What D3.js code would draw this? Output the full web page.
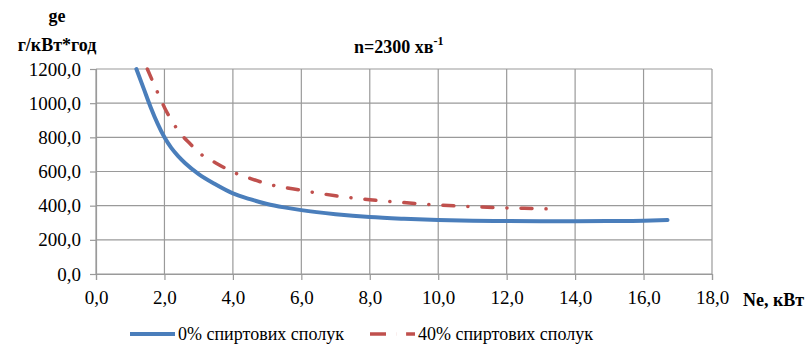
<!DOCTYPE html>
<html>
<head>
<meta charset="utf-8">
<script src="https://cdn.jsdelivr.net/npm/d3@7"></script>
<style>
  body { margin: 0; background: #fff; }
  svg text { font-family: "Liberation Serif", "Times New Roman", Times, "DejaVu Serif", serif; fill: #000; }
</style>
</head>
<body>
<div id="chart"></div>
<script>
// data
var ne0 = [1.18, 1.4, 1.6, 1.8, 2.0, 2.2, 2.4, 2.6, 3.0, 3.5, 4.0, 4.5, 5.0, 5.5, 6.0, 7.0, 8.0, 9.0, 10.0, 11.0, 12.0, 13.0, 14.0, 15.0, 16.0, 16.7];
var ge0 = [1200, 1082, 975, 880, 800, 738, 690, 650, 585, 524, 472, 438, 410, 390, 374, 350, 333, 323, 316, 312, 310, 309, 309, 310, 312, 316];

var ne40 = [1.5, 1.75, 2.0, 2.25, 2.5, 2.75, 3.0, 3.5, 4.0, 4.5, 5.0, 6.0, 7.0, 8.0, 9.0, 10.0, 11.0, 12.0, 13.0, 13.4];
var ge40 = [1200, 1085, 975, 885, 815, 762, 712, 650, 597, 560, 528, 490, 458, 435, 418, 404, 394, 387, 382, 380];

var seriesNames = ["0% спиртових сполук", "40% спиртових сполук"];
var xTicks = [0, 2, 4, 6, 8, 10, 12, 14, 16, 18];
var yTicks = [0, 200, 400, 600, 800, 1000, 1200];

var margin = {top: 69, right: 99, bottom: 71, left: 96},
    width = 811 - margin.left - margin.right,
    height = 345 - margin.top - margin.bottom;

var root = d3.select("#chart")
  .append("svg")
    .attr("width", 811)
    .attr("height", 345);

var svg = root.append("g")
    .attr("transform", "translate(" + margin.left + "," + margin.top + ")");

var x = d3.scaleLinear().domain([0, 18]).range([0, width]);
var y = d3.scaleLinear().domain([0, 1200]).range([height, 0]);
var fmt = function(d) { return d3.format(".1f")(d).replace(".", ","); };

var gridColor = "#9a9a9a";

// grid
svg.append("g")
  .selectAll("line")
  .data(yTicks)
  .enter()
  .append("line")
    .attr("x1", 0).attr("x2", width)
    .attr("y1", d => y(d)).attr("y2", d => y(d))
    .attr("stroke", gridColor).attr("stroke-width", 1.2);

svg.append("g")
  .selectAll("line")
  .data(xTicks)
  .enter()
  .append("line")
    .attr("x1", d => x(d)).attr("x2", d => x(d))
    .attr("y1", 0).attr("y2", height)
    .attr("stroke", gridColor).attr("stroke-width", 1.2);

// axes
var xAxis = svg.append("g")
  .attr("transform", "translate(0," + height + ")")
  .call(d3.axisBottom(x).tickValues(xTicks).tickFormat(fmt).tickSize(6).tickPadding(11));

var yAxis = svg.append("g")
  .call(d3.axisLeft(y).tickValues(yTicks).tickFormat(fmt).tickSize(6).tickPadding(9));

[xAxis, yAxis].forEach(function(a) {
  a.attr("font-size", 19);
  a.select(".domain").attr("stroke", gridColor).attr("stroke-width", 1.2);
  a.selectAll(".tick line").attr("stroke", gridColor).attr("stroke-width", 1.2);
  a.selectAll(".tick text").attr("fill", "#000");
});

// lines
var line = d3.line()
  .x(d => x(d[0]))
  .y(d => y(d[1]))
  .curve(d3.curveMonotoneX);

var data0 = ne0.map((d, i) => [d, ge0[i]]);
var data40 = ne40.map((d, i) => [d, ge40[i]]);

svg.append("path")
  .datum(data40)
  .attr("d", line)
  .attr("fill", "none")
  .attr("stroke", "#c0504d")
  .attr("stroke-width", 3.5)
  .attr("stroke-linecap", "round")
  .attr("stroke-dasharray", "11,14,0.1,14");

svg.append("path")
  .datum(data0)
  .attr("d", line)
  .attr("fill", "none")
  .attr("stroke", "#4a7ebb")
  .attr("stroke-width", 4)
  .attr("stroke-linecap", "round");

// titles
root.append("text")
  .attr("x", 57).attr("y", 22)
  .attr("text-anchor", "middle")
  .attr("font-size", 18).attr("font-weight", "bold")
  .text("ge");

root.append("text")
  .attr("x", 57).attr("y", 51)
  .attr("text-anchor", "middle")
  .attr("font-size", 18).attr("font-weight", "bold")
  .text("г/кВт*год");

var t = root.append("text")
  .attr("x", 354).attr("y", 53)
  .attr("font-size", 18).attr("font-weight", "bold");
t.append("tspan").text("n=2300 хв");
t.append("tspan").attr("dy", -8).attr("font-size", 12).text("-1");

root.append("text")
  .attr("x", 743).attr("y", 306)
  .attr("font-size", 18).attr("font-weight", "bold")
  .text("Ne, кВт");

// legend
var legend = root.append("g");
var legendItems = [
  {name: seriesNames[0], x: 130, color: "#4a7ebb", dash: null, w: 4},
  {name: seriesNames[1], x: 370, color: "#c0504d", dash: "16,10,0.1,10", w: 3.5}
];
legendItems.forEach(function(d) {
  legend.append("line")
    .attr("x1", d.x).attr("x2", d.x + 45)
    .attr("y1", 334).attr("y2", 334)
    .attr("stroke", d.color)
    .attr("stroke-width", d.w)
    .attr("stroke-dasharray", d.dash);
  legend.append("text")
    .attr("x", d.x + 48).attr("y", 340)
    .attr("font-size", 18)
    .text(d.name);
});
</script>
</body>
</html>
